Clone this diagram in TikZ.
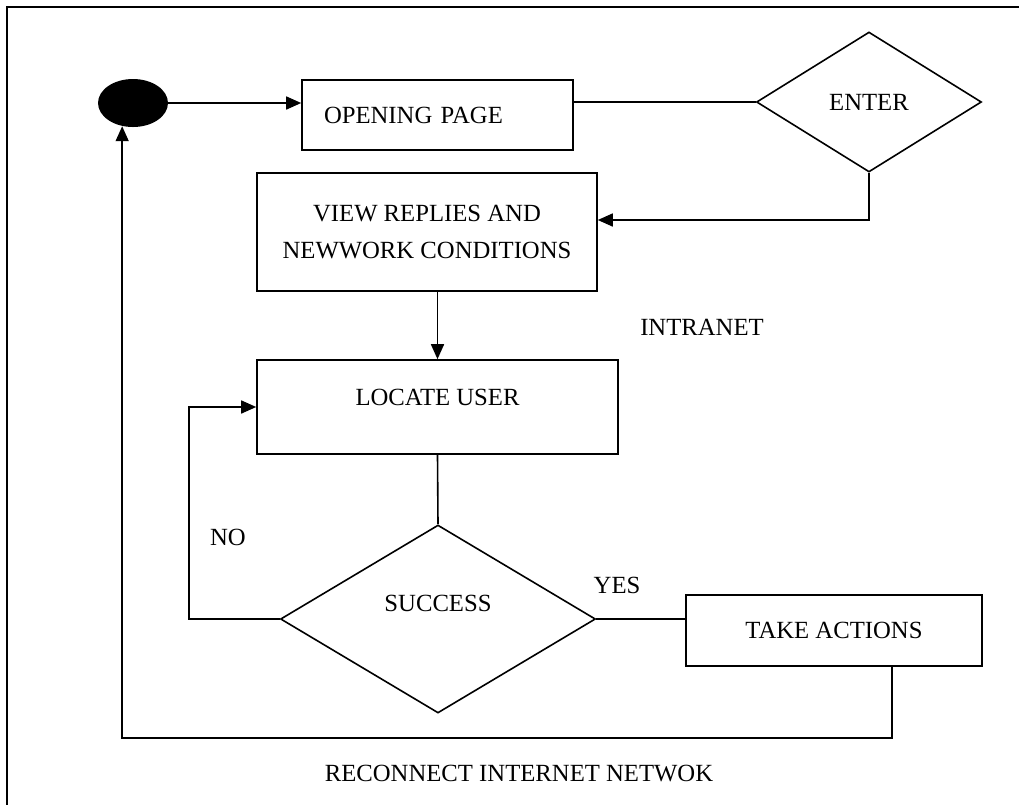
\documentclass[tikz,border=0pt]{standalone}
\usepackage{fontspec}
\setmainfont{Liberation Serif}
\usetikzlibrary{shapes.geometric,arrows.meta}

\begin{document}
\begin{tikzpicture}[x=0.5pt,y=-0.5pt,font=\fontsize{12.35}{19}\selectfont,
        box/.style={thick,draw,rectangle,inner sep=0pt},
        decide/.style={thick,draw,diamond,inner sep=0pt}]
        \useasboundingbox (0,0) rectangle (1019,805);
        \draw[thick] (1019,7) -- (7,7) -- (7,805);
        \node[fill,ellipse,minimum width=35pt,minimum height=24pt,inner sep=0pt] at (133,103) (start) {};
        \node[box,inner xsep=11pt,text width=113.5pt,minimum height=35pt,align=left] at (437.5,115) (open) {OPENING PAGE};
        \node[decide,minimum width=112.5pt,minimum height=70pt] at (869,102) (enter) {ENTER};
        \node[box,minimum width=170pt,minimum height=59pt,align=center] at (427,232) (view) {VIEW REPLIES AND\\NEWWORK CONDITIONS};
        \node[box,minimum width=180.5pt,minimum height=47pt,text depth=10pt] at (437.5,407) (locate) {LOCATE USER};
        \node[decide,minimum width=157.5pt,minimum height=94pt,text depth=16pt] at (438,619) (success) {SUCCESS};
        \node[box,minimum width=148pt,minimum height=35.5pt] at (834,630.5) (act) {TAKE ACTIONS};
        \node at (702,327) (intranet) {INTRANET};
        \node at (228,537) (no) {NO};
        \node at (617,585) (yes) {YES};
        \node at (519,773) (reconnect) {RECONNECT INTERNET NETWOK};
        \draw[->, thick, >={Triangle[length=7.5pt,width=6.5pt]}]
        (start.east) -- (start.east -| open.west);
        \draw[thick] (enter.west -| open.east) -- (enter.west);
        \draw[->, thick, >={Triangle[length=7.5pt,width=6.5pt]}]
        (enter.south) |- ([yshift=6pt]view.east);
        \draw[->, thick, >={Triangle[length=7.5pt,width=6.5pt]}]
        (view.south -| locate.north) -- (locate.north);
        \draw[thick] (locate.south) -- (success.north);
        \draw[->, thick, >={Triangle[length=7.5pt,width=6.5pt]}]
        (success.west) -- ++(-91,0) |- (locate.west);
        \draw[thick] (success.east) -- (success.east -| act.west);
        \draw[->, thick, >={Triangle[length=7.5pt,width=6.5pt]}]
        ([xshift=29pt]act.south) -- ++(0,71) -| (start.245);
\end{tikzpicture}
\end{document}
